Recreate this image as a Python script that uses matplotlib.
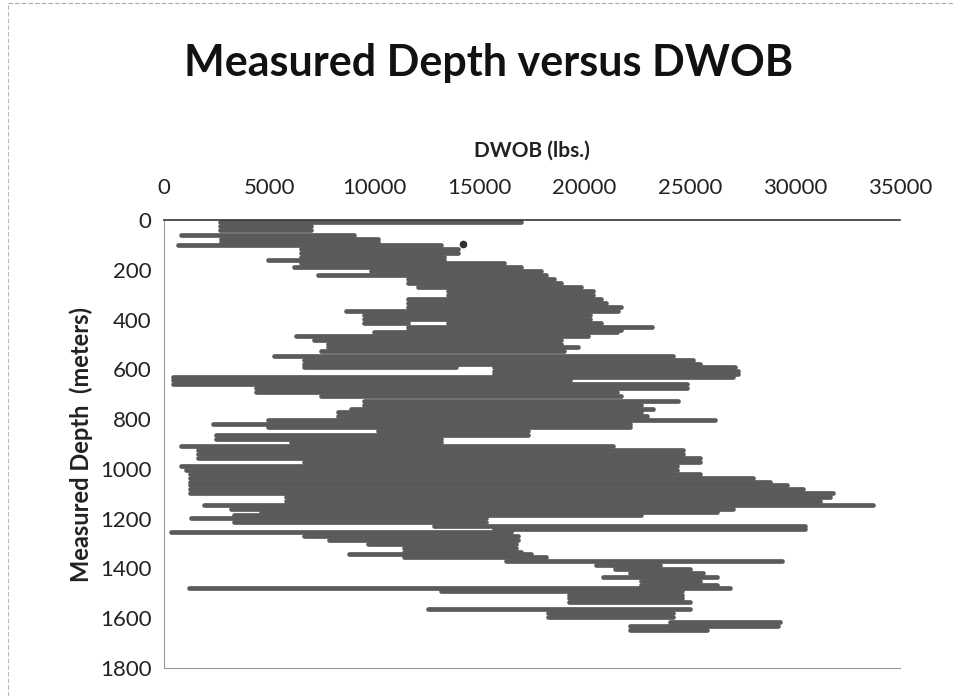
import matplotlib
matplotlib.use("Agg")
import matplotlib.pyplot as plt
from matplotlib.lines import Line2D

plt.rcParams['font.family'] = ['Lato', 'DejaVu Sans']

# ---- data: each row is one horizontal run of the DWOB trace ----
depth_m = [8, 24, 40, 60, 76, 88, 100, 116, 132, 148, 160, 172, 188, 204, 220,
           236, 252, 268, 284, 300, 316, 332, 348, 364, 380, 396, 412, 412, 428,
           440, 452, 468, 484, 500, 512, 528, 548, 564, 580, 592, 592, 608, 620,
           632, 644, 660, 676, 692, 708, 728, 744, 760, 772, 788, 804, 820, 832,
           848, 864, 880, 892, 908, 924, 940, 956, 972, 988, 1004, 1020, 1036,
           1052, 1064, 1080, 1096, 1112, 1128, 1144, 1160, 1172, 1184, 1196,
           1212, 1228, 1240, 1252, 1268, 1284, 1300, 1316, 1332, 1340, 1356,
           1372, 1388, 1404, 1420, 1436, 1452, 1468, 1480, 1492, 1508, 1520,
           1536, 1564, 1580, 1596, 1616, 1632, 1648]
dwob_low = [2660, 2660, 2660, 810, 2710, 2710, 665, 6510, 6510, 6510, 4940, 6510,
            6175, 9830, 7315, 11590, 11590, 12065, 13490, 13490, 11590, 11590,
            11590, 8645, 9500, 9500, 13490, 9500, 11590, 11590, 9975, 6270, 7125,
            7790, 7790, 7460, 5225, 6650, 6650, 6650, 15675, 15675, 15675, 430,
            430, 430, 4370, 4370, 7460, 9500, 9500, 8880, 8265, 8265, 4940, 2330,
            4940, 10165, 2470, 2470, 6030, 810, 1615, 1615, 1615, 6650, 810, 1045,
            1235, 1235, 1235, 1235, 1235, 1235, 5800, 5800, 1900, 3180, 4610,
            3325, 1280, 3325, 12825, 15675, 330, 6650, 7840, 9690, 11400, 11400,
            8790, 11400, 16245, 20520, 21470, 22180, 20900, 22660, 22660, 1190,
            13160, 19240, 19240, 19240, 12540, 18240, 18240, 24080, 22180, 22180]
dwob_high = [16960, 6980, 6980, 9025, 10165, 10165, 13160, 13965, 13965, 13300,
             13300, 16150, 16960, 17910, 18145, 18525, 18860, 19810, 20380, 20380,
             20760, 21000, 21710, 21610, 20280, 20280, 20760, 11590, 23230, 21710,
             21565, 20140, 18860, 18860, 19710, 19000, 24225, 25175, 25510, 13870,
             27170, 27310, 27310, 27075, 19330, 24890, 24890, 21565, 21710, 24460,
             22660, 23275, 22660, 22990, 26220, 22180, 22180, 17290, 17290, 13160,
             13160, 21375, 24700, 24700, 25510, 25510, 24415, 24415, 25510, 28025,
             28830, 29640, 30400, 31825, 31680, 31210, 33725, 27075, 26315, 22660,
             15295, 15295, 30500, 30500, 16480, 16815, 16815, 16720, 16720, 16960,
             17430, 18145, 29400, 23610, 25030, 25650, 26315, 25510, 26315, 26930,
             24650, 24650, 24650, 25030, 25030, 24225, 24225, 29310, 29210, 25840]

stray_dwob = [14200]
stray_depth = [96]

x_ticks = [0, 5000, 10000, 15000, 20000, 25000, 30000, 35000]
y_ticks = [0, 200, 400, 600, 800, 1000, 1200, 1400, 1600, 1800]

W, H = 955, 696
fig = plt.figure(figsize=(W / 100, H / 100), dpi=100)
fig.patch.set_facecolor('white')

L, R, T, B = 164, 900, 220, 668
ax = fig.add_axes([L / W, 1 - B / H, (R - L) / W, (B - T) / H])

ax.hlines(depth_m, dwob_low, dwob_high, colors='#5a5a5a', linewidth=3.4,
          capstyle='round')
ax.plot(stray_dwob, stray_depth, 'o', color='#303030', markersize=4.5)

ax.set_xlim(0, 35000)
ax.set_ylim(1800, 0)
ax.xaxis.tick_top()
ax.set_xticks(x_ticks)
ax.set_yticks(y_ticks)
ax.set_xticklabels([str(v) for v in x_ticks])
ax.set_yticklabels([str(v) for v in y_ticks])
ax.tick_params(axis='both', length=0, labelsize=16, colors='#222222')
ax.tick_params(axis='x', pad=16)
ax.tick_params(axis='y', pad=9)

for side, sp in ax.spines.items():
    sp.set_color('#9a9a9a')
    sp.set_linewidth(0.8)
ax.spines['top'].set_color('#333333')
ax.spines['top'].set_linewidth(1.2)
ax.spines['right'].set_visible(False)

ax.set_xlabel('DWOB (lbs.)', fontsize=15, fontweight='bold', labelpad=15,
              color='#222222')
ax.xaxis.set_label_position('top')
ax.set_ylabel('Measured Depth  (meters)', fontsize=17, fontweight='bold',
              labelpad=5, color='#222222')

fig.text(0.512, 1 - 63 / H, 'Measured Depth versus DWOB', ha='center',
         va='center', fontsize=31, fontweight='bold', color='#111111')

# scan frame lines
fig.add_artist(Line2D([8 / W, 1], [1 - 3 / H, 1 - 3 / H], color='#aaaaaa',
                      linewidth=0.8, linestyle=(0, (4, 2))))
fig.add_artist(Line2D([8 / W, 8 / W], [0, 1 - 3 / H], color='#bbbbbb',
                      linewidth=0.8, linestyle=(0, (4, 2))))

fig.savefig('out.png', dpi=100)
